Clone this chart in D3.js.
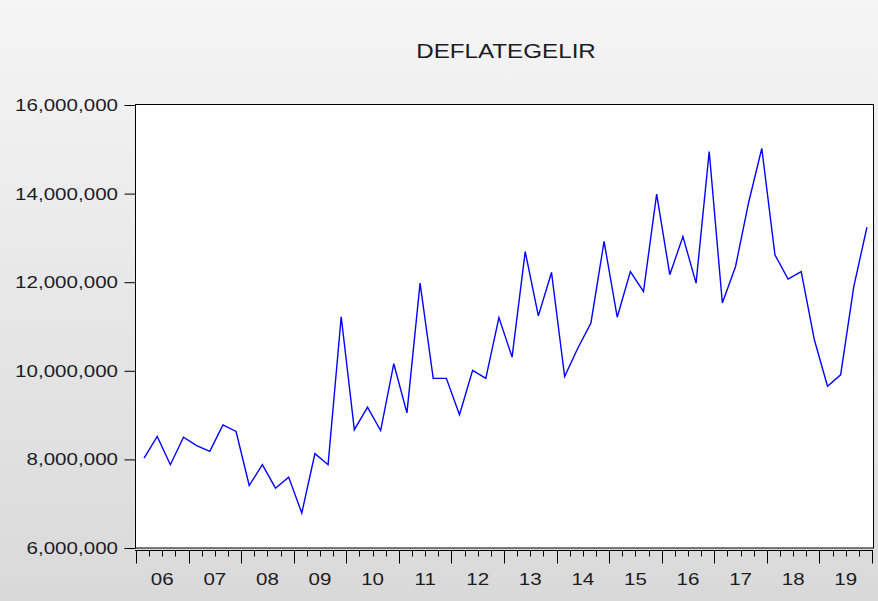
<!DOCTYPE html>
<html>
<head>
<meta charset="utf-8">
<script src="https://cdn.jsdelivr.net/npm/d3@7"></script>
<style>
  body { margin: 0; }
  text { font-family: "Liberation Sans", Arial, sans-serif; fill: #1c1c24; }
</style>
</head>
<body>
<div id="chart"></div>
<script>
const title = 'DEFLATEGELIR';
const startYear = 2006;
const yearLabels = ['06', '07', '08', '09', '10', '11', '12', '13', '14', '15', '16', '17', '18', '19'];
const yTicks = [6000000, 8000000, 10000000, 12000000, 14000000, 16000000];
// quarterly values, 2006Q1 .. 2019Q4
const values = [
  8030000, 8520000, 7880000, 8500000,
  8310000, 8180000, 8780000, 8630000,
  7410000, 7880000, 7350000, 7600000,
  6790000, 8130000, 7880000, 11220000,
  8670000, 9180000, 8650000, 10160000,
  9050000, 11980000, 9830000, 9830000,
  9010000, 10010000, 9830000, 11200000,
  10310000, 12690000, 11240000, 12220000,
  9870000, 10510000, 11080000, 12920000,
  11210000, 12240000, 11790000, 13990000,
  12170000, 13030000, 11980000, 14950000,
  11530000, 12350000, 13800000, 15020000,
  12620000, 12070000, 12240000, 10700000,
  9650000, 9910000, 11900000, 13240000,
];

const W = 878;
const H = 601;
const plot = { left: 135, right: 873, top: 105, bottom: 548 };
const stretch = 1.21; // text in the source is drawn slightly wide

const x = d3.scaleLinear()
  .domain([startYear, startYear + yearLabels.length])
  .range([plot.left + 1, plot.right - 1]);
const y = d3.scaleLinear()
  .domain([6000000, 16000000])
  .range([plot.bottom, plot.top]);

const svg = d3.select('#chart').append('svg')
  .attr('width', W)
  .attr('height', H);

const grad = svg.append('defs').append('linearGradient')
  .attr('id', 'bg')
  .attr('x1', 0).attr('y1', 0)
  .attr('x2', 0).attr('y2', 1);
grad.append('stop').attr('offset', '0%').attr('stop-color', '#f5f5f5');
grad.append('stop').attr('offset', '100%').attr('stop-color', '#d9d9d9');

svg.append('rect')
  .attr('width', W)
  .attr('height', H)
  .attr('fill', 'url(#bg)');

// title
svg.append('text')
  .attr('transform', `translate(506, 58) scale(${stretch}, 1)`)
  .attr('text-anchor', 'middle')
  .style('font-size', '20px')
  .text(title);

// plot frame
svg.append('rect')
  .attr('x', plot.left + 0.5)
  .attr('y', plot.top - 0.5)
  .attr('width', plot.right - plot.left)
  .attr('height', plot.bottom - plot.top + 0.5)
  .attr('fill', '#fff')
  .attr('stroke', '#000')
  .attr('stroke-width', 1);

// y axis
const yAxis = svg.append('g')
  .attr('transform', `translate(${plot.left + 0.5}, 0)`)
  .call(d3.axisLeft(y).tickValues(yTicks).tickSize(11).tickFormat(() => ''));
yAxis.select('.domain').remove();
yAxis.selectAll('line').attr('stroke', '#000');

svg.selectAll('.ylab')
  .data(yTicks)
  .enter().append('text')
  .attr('class', 'ylab')
  .attr('text-anchor', 'end')
  .attr('transform', d => `translate(118, ${y(d) + 6}) scale(${stretch}, 1)`)
  .style('font-size', '17px')
  .text(d => d3.format(',')(d));

// x axis: year ticks long, quarter ticks short
const axisY = plot.bottom + 2.5;
const quarterTicks = d3.range(0, yearLabels.length * 4 + 1).map(i => startYear + i / 4);

svg.append('line')
  .attr('x1', plot.left)
  .attr('x2', plot.right)
  .attr('y1', axisY)
  .attr('y2', axisY)
  .attr('stroke', '#000');

svg.selectAll('.xtick')
  .data(quarterTicks)
  .enter().append('line')
  .attr('class', 'xtick')
  .attr('x1', d => Math.round(x(d)) + 0.5)
  .attr('x2', d => Math.round(x(d)) + 0.5)
  .attr('y1', axisY)
  .attr('y2', (d, i) => (i % 4 === 0 ? axisY + 13 : axisY + 6))
  .attr('stroke', '#000');

svg.selectAll('.xlab')
  .data(yearLabels)
  .enter().append('text')
  .attr('class', 'xlab')
  .attr('text-anchor', 'middle')
  .attr('transform', (d, i) => `translate(${x(startYear + i + 0.5)}, 585) scale(${stretch}, 1)`)
  .style('font-size', '17px')
  .text(d => d);

// series (points sit a little right of the quarter middle)
const line = d3.line()
  .x((d, i) => x(startYear + (i + 0.5) / 4) + 1.5)
  .y(d => y(d));

svg.append('path')
  .datum(values)
  .attr('fill', 'none')
  .attr('stroke', '#0000ff')
  .attr('stroke-width', 1.4)
  .attr('d', line);
</script>
</body>
</html>
